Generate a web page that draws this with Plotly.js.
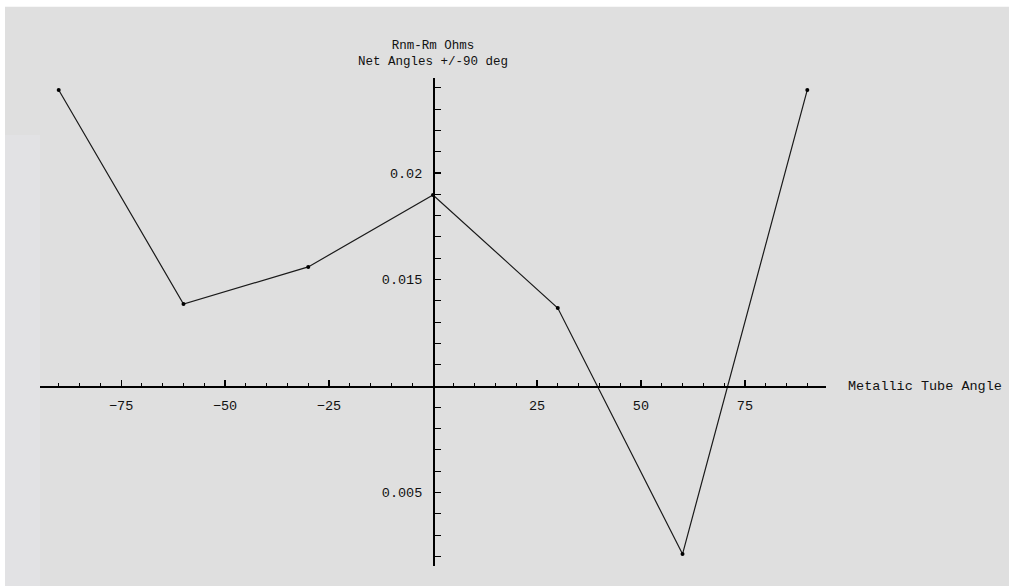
<!DOCTYPE html>
<html>
<head>
<meta charset="utf-8">
<script src="https://cdn.plot.ly/plotly-3.0.1.min.js"></script>
<style>
  html, body { margin: 0; padding: 0; background: #ffffff; }
  #plot { width: 1009px; height: 586px; }
</style>
</head>
<body>
<div id="plot"></div>
<script>
// tube angle (deg) and Rnm-Rm (Ohms)
const angles = [-90, -60, -30, 0, 30, 60, 90];
const resistance = [0.0239, 0.01385, 0.01559, 0.01897, 0.01366, 0.00211, 0.0239];

const xTickVals = [-75, -50, -25, 25, 50, 75];
const yTickVals = [0.005, 0.015, 0.02];
const yTickText = ['0.005', '0.015', '0.02'];

const monoFont = { family: 'Liberation Mono, DejaVu Sans Mono, monospace', size: 13.5, color: '#111' };
const grey = '#dfdfdf';

// y level where the x axis crosses, in paper units
const yRange = [0.00155, 0.02446];
const crossY = (0.01 - yRange[0]) / (yRange[1] - yRange[0]);

Plotly.newPlot(
  'plot',
  [
    {
      x: angles,
      y: resistance,
      mode: 'lines+markers',
      type: 'scatter',
      line: { color: '#1a1a1a', width: 1.2 },
      marker: { color: '#000', size: 4 },
      hoverinfo: 'x+y',
    },
  ],
  {
    width: 1009,
    height: 586,
    margin: { l: 40, r: 183, t: 78, b: 20 },
    paper_bgcolor: grey,
    plot_bgcolor: grey,
    showlegend: false,
    font: monoFont,
    xaxis: {
      range: [-94.5, 94.5],
      anchor: 'free',
      position: crossY,
      showgrid: false,
      zeroline: false,
      showline: true,
      linecolor: '#000',
      linewidth: 1.5,
      ticks: 'inside',
      ticklen: 6,
      tickwidth: 1.2,
      tickcolor: '#000',
      tickvals: xTickVals,
      ticklabelstandoff: 6,
      tickfont: monoFont,
      minor: { dtick: 5, tick0: 0, ticks: 'inside', ticklen: 3, tickwidth: 1, tickcolor: '#000', showgrid: false },
    },
    yaxis: {
      range: yRange,
      anchor: 'free',
      position: 0.5,
      showgrid: false,
      zeroline: false,
      showline: true,
      linecolor: '#000',
      linewidth: 1.5,
      ticks: 'inside',
      ticklen: 6,
      tickwidth: 1.2,
      tickcolor: '#000',
      tickvals: yTickVals,
      ticktext: yTickText,
      ticklabelstandoff: 8,
      tickfont: monoFont,
      minor: { dtick: 0.001, tick0: 0, ticks: 'inside', ticklen: 6, tickwidth: 1, tickcolor: '#000', showgrid: false },
    },
    annotations: [
      {
        text: 'Rnm-Rm Ohms<br>Net Angles +/-90 deg',
        xref: 'paper', yref: 'paper',
        x: 0.5, y: 1.05,
        xanchor: 'center', yanchor: 'middle',
        align: 'center',
        showarrow: false,
        font: { family: monoFont.family, size: 12.5, color: '#111' },
      },
      {
        text: 'Metallic Tube Angle',
        xref: 'paper', yref: 'paper',
        x: 1.026, y: crossY,
        xanchor: 'left', yanchor: 'middle',
        showarrow: false,
        font: monoFont,
      },
    ],
    shapes: [
      // white frame strips at top and left, lighter panel at left edge
      { type: 'rect', xref: 'paper', yref: 'paper', x0: -0.06, x1: 1.3, y0: 1.146, y1: 1.2, fillcolor: '#ffffff', line: { width: 0 }, layer: 'below' },
      { type: 'rect', xref: 'paper', yref: 'paper', x0: -0.06, x1: -0.0445, y0: -0.05, y1: 1.2, fillcolor: '#ffffff', line: { width: 0 }, layer: 'below' },
      { type: 'rect', xref: 'paper', yref: 'paper', x0: -0.0445, x1: 0, y0: -0.05, y1: 0.883, fillcolor: '#e2e2e4', line: { width: 0 }, layer: 'below' },
    ],
  },
  { displayModeBar: false, staticPlot: true }
);
</script>
</body>
</html>
